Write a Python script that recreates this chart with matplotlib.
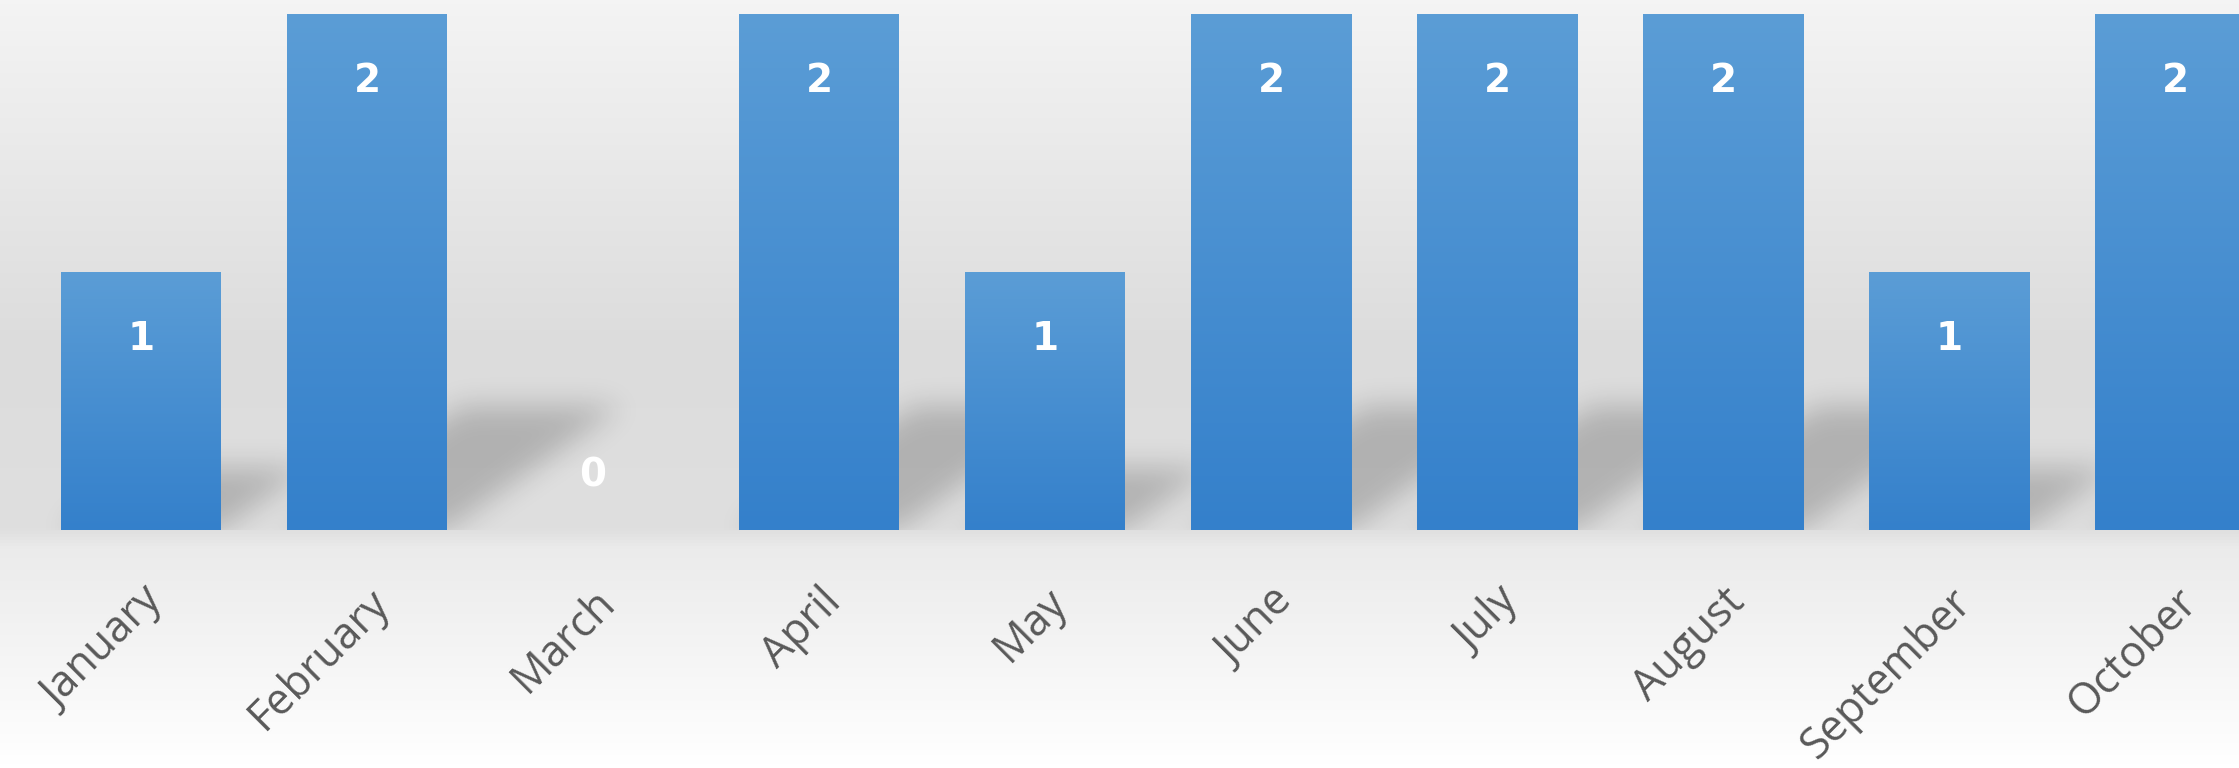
import matplotlib.pyplot as plt
import numpy as np
from matplotlib.colors import LinearSegmentedColormap

# data
months = ['January', 'February', 'March', 'April', 'May', 'June',
          'July', 'August', 'September', 'October']
counts = [1, 2, 0, 2, 1, 2, 2, 2, 1, 2]

W, H = 2239, 768
fig = plt.figure(figsize=(W / 100, H / 100), dpi=100)

# background gradient (whole figure)
bg = fig.add_axes([0, 0, 1, 1], zorder=-10)
bg_cmap = LinearSegmentedColormap.from_list('bg', [
    (0.0, '#f4f4f4'), (0.45, '#dcdcdc'), (0.69, '#dfdfdf'),
    (0.715, '#ebebeb'), (1.0, '#ffffff')])
bg.imshow(np.linspace(0, 1, 256).reshape(-1, 1), cmap=bg_cmap,
          aspect='auto', extent=[0, 1, 0, 1])
bg.set_axis_off()

# plot area: baseline at 530 px from top, 258 px per unit
base = 238 / H
ax = fig.add_axes([0, base, 1, 1 - base])
ax.set_facecolor('none')
x = np.arange(len(months))
xl = (-141 / 226, (W - 141) / 226)
ax.set_xlim(*xl)
ax.set_ylim(0, 530 / 258)

bars = ax.bar(x, counts, width=160 / 226, color='none', zorder=3)

# soft cast shadows behind bars (blurred parallelograms)
ny, ymax = 260, 1.0
gx = np.linspace(xl[0], xl[1], W)
gy = np.linspace(0, ymax, ny)
GX, GY = np.meshgrid(gx, gy)
mask = np.zeros_like(GX)
for b, v in zip(bars, counts):
    if v == 0:
        continue
    h = 0.24 * v
    dx = 0.385 * v
    x0, x1 = b.get_x(), b.get_x() + b.get_width()
    t = GY / h
    inside = (GY <= h) & (GX >= x0 + dx * t) & (GX <= x1 + dx * t)
    mask[inside] = 1.0

def blur(a, sigma, axis):
    r = int(3 * sigma)
    k = np.exp(-0.5 * (np.arange(-r, r + 1) / sigma) ** 2)
    k /= k.sum()
    return np.apply_along_axis(lambda m: np.convolve(m, k, mode='same'), axis, a)

mask = blur(blur(mask, 14, 1), 14 * ny / (ymax * 258), 0)
shadow = np.zeros((ny, W, 4))
shadow[..., 3] = 0.2 * mask
ax.imshow(shadow, origin='lower', aspect='auto', zorder=1,
          extent=[xl[0], xl[1], 0, ymax], interpolation='bilinear')

# gradient fill of bars
bar_cmap = LinearSegmentedColormap.from_list('bar', ['#3480cb', '#5b9dd6'])
for b in bars:
    if b.get_height() <= 0:
        continue
    ax.imshow(np.linspace(0, 1, 256).reshape(-1, 1), cmap=bar_cmap,
              origin='lower', aspect='auto', zorder=3,
              extent=[b.get_x(), b.get_x() + b.get_width(), 0, b.get_height()])

# value labels
for xi, v in zip(x, counts):
    y = v - 0.26 if v > 0 else 0.21
    ax.text(xi, y, str(v), ha='center', va='center', color='white',
            fontsize=28, fontweight='bold', fontfamily='DejaVu Sans', zorder=5)

ax.set_xticks(x)
ax.set_xticklabels(months, rotation=45, ha='right', rotation_mode='anchor',
                   fontsize=31, color='#595959', fontfamily='Open Sans')
ax.tick_params(axis='x', length=0, pad=36)
ax.set_yticks([])
for sp in ax.spines.values():
    sp.set_visible(False)

fig.savefig('out.png', dpi=100)
